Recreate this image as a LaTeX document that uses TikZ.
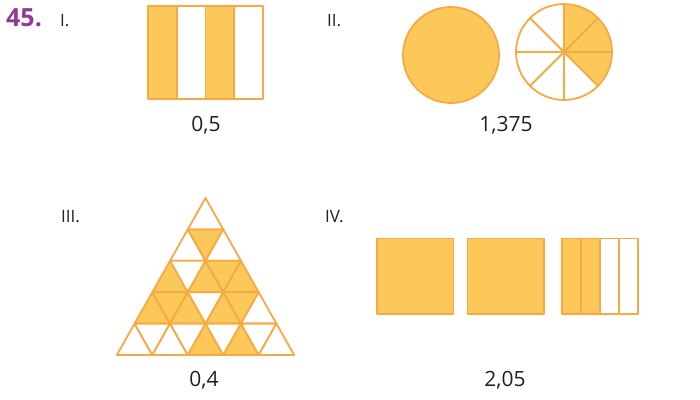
\documentclass[tikz,border=0pt]{standalone}
\usepackage{fontspec}
\setmainfont{Open Sans}
\definecolor{fillc}{HTML}{FDC85A}
\definecolor{linec}{HTML}{F7A944}
\definecolor{purp}{HTML}{8E3A96}
\definecolor{txt}{HTML}{231F20}
\begin{document}
\begin{tikzpicture}[x=1pt,y=-1pt,
  part/.style={anchor=base west,inner sep=0pt,text=txt,font=\fontsize{17}{20}\selectfont},
  val/.style={anchor=base,inner sep=0pt,text=txt,font=\fontsize{21}{24}\selectfont},
  edge/.style={draw=linec,line width=1.8pt,line join=round},
  sh/.style={edge,fill=fillc},
  wh/.style={edge,fill=white}]
\useasboundingbox (0,0) rectangle (700,399);
% headings
\node[anchor=base west,inner sep=0pt,text=purp,font=\fontsize{25}{28}\selectfont\bfseries] (num) at (6,26) {45.};
\node[part] (p1) at (60,26) {I.};
\node[part] (p2) at (327,26) {II.};
\node[part] (p3) at (61,222) {III.};
\node[part] (p4) at (325,222) {IV.};
% I
\foreach \i/\s in {0/sh,1/wh,2/sh,3/wh}{
  \draw[\s] ({148+\i*28.75},6) rectangle ({148+(\i+1)*28.75},99);
}
\node[val] (v1) at (206,131) {0,5};
% II
\draw[sh] (451,55) circle (48);
\coordinate (c2) at (564,52);
\fill[fillc] (c2) -- ++(-90:48) arc[start angle=-90,end angle=45,radius=48] -- cycle;
\foreach \a in {0,45,...,315}{ \draw[edge] (c2) -- ++(\a:48); }
\draw[edge] (c2) circle (48);
\node[val] (v2) at (506,131) {1,375};
% III triangle
\def\ax{205.5}\def\ay{198}\def\tw{35.46}\def\th{31.4}
\newcommand{\tp}[2]{({\ax+(#2-#1/2)*\tw},{\ay+#1*\th})}
\newcommand{\upt}[3]{\draw[#3] \tp{#1}{#2} -- \tp{\the\numexpr#1+1\relax}{#2} -- \tp{\the\numexpr#1+1\relax}{\the\numexpr#2+1\relax} -- cycle;}
\newcommand{\dnt}[3]{\draw[#3] \tp{#1}{#2} -- \tp{#1}{\the\numexpr#2+1\relax} -- \tp{\the\numexpr#1+1\relax}{\the\numexpr#2+1\relax} -- cycle;}
% row 0
\upt{0}{0}{wh}
% row 1
\upt{1}{0}{wh}\dnt{1}{0}{sh}\upt{1}{1}{wh}
% row 2
\upt{2}{0}{sh}\dnt{2}{0}{wh}\upt{2}{1}{sh}\dnt{2}{1}{sh}\upt{2}{2}{sh}
% row 3
\upt{3}{0}{sh}\dnt{3}{0}{sh}\upt{3}{1}{sh}\dnt{3}{1}{wh}\upt{3}{2}{sh}\dnt{3}{2}{sh}\upt{3}{3}{wh}
% row 4
\upt{4}{0}{wh}\dnt{4}{0}{wh}\upt{4}{1}{wh}\dnt{4}{1}{wh}\upt{4}{2}{sh}\dnt{4}{2}{wh}\upt{4}{3}{sh}\dnt{4}{3}{wh}\upt{4}{4}{wh}
\node[val] (v3) at (204,386) {0,4};
% IV
\draw[sh] (377,238.5) rectangle (453.5,314);
\draw[sh] (467.5,238.5) rectangle (544,314);
\foreach \i/\s in {0/sh,1/sh,2/wh,3/wh}{
  \draw[\s] ({562+\i*18.9},238.5) rectangle ({562+(\i+1)*18.9},314);
}
\node[val] (v4) at (505,386) {2,05};
\end{tikzpicture}
\end{document}
